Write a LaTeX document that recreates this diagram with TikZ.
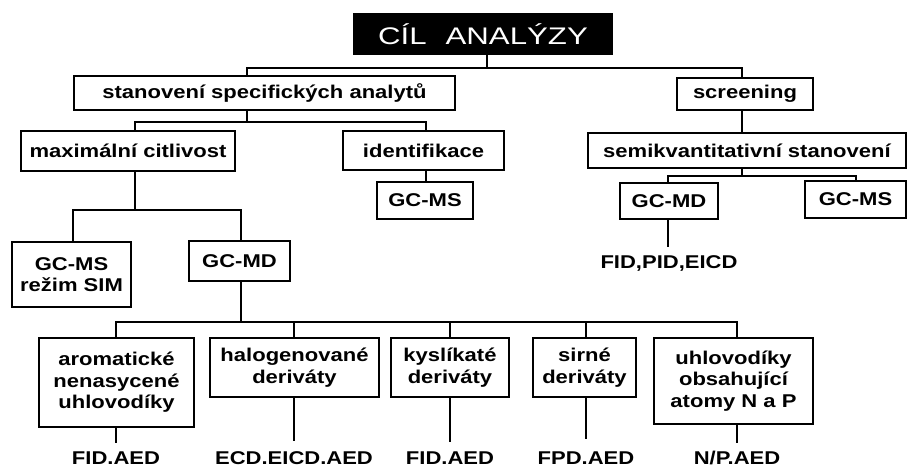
\documentclass[tikz,border=0pt]{standalone}
\usepackage{fontspec}
\setmainfont{Liberation Sans}[FakeStretch=1.19]
\newfontfamily\titlefont{Liberation Sans}[FakeStretch=1.3]
\begin{document}
\begin{tikzpicture}[x=1pt,y=-1pt,
  box/.style={draw=black,line width=1.4pt,fill=white,inner sep=0pt,
    font=\fontsize{18.5}{21.5}\selectfont\bfseries,align=center},
  lbl/.style={inner sep=0pt,anchor=base,font=\fontsize{18.5}{21.5}\selectfont\bfseries},
  conn/.style={line width=1.4pt,line cap=rect}]
\fill[white] (0,0) rectangle (911,468);
\useasboundingbox (0,0) rectangle (911,468);

% title
\node[fill=black,text=white,inner sep=0pt,minimum width=260pt,minimum height=42pt,
  font=\titlefont\fontsize{24}{27}\selectfont] (title) at (483,34) {CÍL\hspace{19pt}ANALÝZY};

% level 1
\node[box,minimum width=381pt,minimum height=34pt] (sta) at (264.5,93) {stanovení specifických analytů};
\node[box,minimum width=136pt,minimum height=32pt] (scr) at (745,94) {screening};

% level 2
\node[box,minimum width=214pt,minimum height=40pt] (max) at (128,151) {maximální citlivost};
\node[box,minimum width=161pt,minimum height=39pt] (ide) at (423.5,150.5) {identifikace};
\node[box,minimum width=318pt,minimum height=35pt] (sem) at (747,150.5) {semikvantitativní stanovení};

% level 3
\node[box,minimum width=96pt,minimum height=37pt] (ms1) at (425,200.5) {GC-MS};
\node[box,minimum width=119pt,minimum height=65pt] (sim) at (71.5,274.5) {GC-MS\\režim SIM};
\node[box,minimum width=101pt,minimum height=40pt] (md1) at (239.5,261) {GC-MD};
\node[box,minimum width=98pt,minimum height=36pt] (md2) at (669,201) {GC-MD};
\node[box,minimum width=101pt,minimum height=37pt] (ms2) at (855.5,199.5) {GC-MS};

% level 4
\node[box,minimum width=155pt,minimum height=89pt] (aro) at (116.5,382.5) {aromatické\\nenasycené\\uhlovodíky};
\node[box,minimum width=169pt,minimum height=59pt] (hal) at (294.5,367.5) {halogenované\\deriváty};
\node[box,minimum width=118pt,minimum height=59pt] (kys) at (450,367.5) {kyslíkaté\\deriváty};
\node[box,minimum width=103pt,minimum height=59pt] (sir) at (584.5,367.5) {sirné\\deriváty};
\node[box,minimum width=159pt,minimum height=86pt] (uhl) at (733.5,381) {uhlovodíky\\obsahující\\atomy N a P};

% detector labels
\node[lbl] (dp) at (669,268) {FID,PID,EICD};
\node[lbl] (d1) at (116,464) {FID.AED};
\node[lbl] (d2) at (294,464) {ECD.EICD.AED};
\node[lbl] (d3) at (450,464) {FID.AED};
\node[lbl] (d4) at (586,464) {FPD.AED};
\node[lbl] (d5) at (737,464) {N/P.AED};

% junction coordinates
\coordinate (t0) at (487,68);
\coordinate (t1) at (247,68);
\coordinate (t2) at (742,68);
\coordinate (s0) at (247,122);
\coordinate (s1) at (135,122);
\coordinate (s2) at (426,122);
\coordinate (m0) at (135,210);
\coordinate (m1) at (73,210);
\coordinate (m2) at (241,210);
\coordinate (g0) at (241,322);
\coordinate (g1) at (116,322);
\coordinate (g2) at (294,322);
\coordinate (g3) at (450,322);
\coordinate (g4) at (586,322);
\coordinate (g5) at (737,322);
\coordinate (r0) at (742,176);
\coordinate (r1) at (668,176);
\coordinate (r2) at (856,176);
\coordinate (e0) at (668,246);
\coordinate (e1) at (116,442);
\coordinate (e2) at (294,440);
\coordinate (e3) at (450,441);
\coordinate (e4) at (586,438);
\coordinate (e5) at (737,442);

% connectors
\draw[conn] (title.south -| t0) -- (t0);
\draw[conn] (sta.north -| t1) -- (t1) -- (t2) -- (scr.north -| t2);
\draw[conn] (sta.south -| s0) -- (s0);
\draw[conn] (max.north -| s1) -- (s1) -- (s2) -- (ide.north -| s2);
\draw[conn] (ide.south -| s2) -- (ms1.north -| s2);
\draw[conn] (max.south -| m0) -- (m0);
\draw[conn] (sim.north -| m1) -- (m1) -- (m2) -- (md1.north -| m2);
\draw[conn] (md1.south -| g0) -- (g0);
\draw[conn] (aro.north -| g1) -- (g1) -- (g5) -- (uhl.north -| g5);
\draw[conn] (hal.north -| g2) -- (g2);
\draw[conn] (kys.north -| g3) -- (g3);
\draw[conn] (sir.north -| g4) -- (g4);
\draw[conn] (scr.south -| r0) -- (sem.north -| r0);
\draw[conn] (sem.south -| r0) -- (r0);
\draw[conn] (md2.north -| r1) -- (r1) -- (r2) -- (ms2.north -| r2);
\draw[conn] (md2.south -| e0) -- (e0);
\draw[conn] (aro.south -| e1) -- (e1);
\draw[conn] (hal.south -| e2) -- (e2);
\draw[conn] (kys.south -| e3) -- (e3);
\draw[conn] (sir.south -| e4) -- (e4);
\draw[conn] (uhl.south -| e5) -- (e5);
\end{tikzpicture}
\end{document}
